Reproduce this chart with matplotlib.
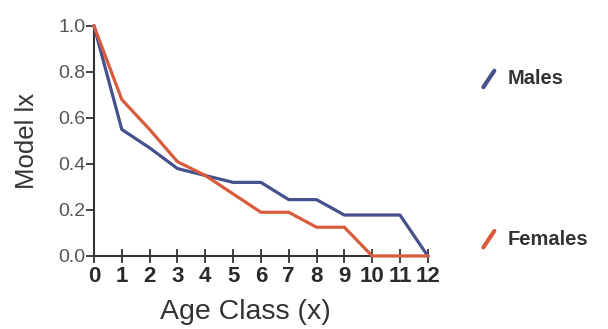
import matplotlib
matplotlib.use("Agg")
import matplotlib.pyplot as plt
from matplotlib.lines import Line2D

plt.rcParams["font.family"] = ["Liberation Sans", "DejaVu Sans"]

# data
age_class = [0, 1, 2, 3, 4, 5, 6, 7, 8, 9, 10, 11, 12]
males = [1.0, 0.55, 0.47, 0.38, 0.35, 0.32, 0.32, 0.245, 0.245, 0.178, 0.178, 0.178, 0.0]
females = [1.0, 0.68, 0.55, 0.41, 0.35, 0.27, 0.19, 0.19, 0.125, 0.125, 0.0, 0.0, 0.0]
y_ticks = [0.0, 0.2, 0.4, 0.6, 0.8, 1.0]

male_color = "#45508c"
female_color = "#d85c3c"

fig = plt.figure(figsize=(6.08, 3.29), dpi=100)
ax = fig.add_axes([0.1546, 0.222, 0.549, 0.699])

ax.plot(age_class, males, color=male_color, lw=2.3, clip_on=False, zorder=3)
ax.plot(age_class, females, color=female_color, lw=2.3, clip_on=False, zorder=4)

ax.set_xlim(0, 12)
ax.set_ylim(0, 1)
ax.set_xticks(age_class)
ax.set_xticklabels([str(a) for a in age_class],
                   family=["Liberation Sans Narrow", "Liberation Sans"],
                   fontweight="bold", fontsize=16, color="#2a2a2a")
ax.set_yticks(y_ticks)
ax.set_yticklabels([f"{v:.1f}" for v in y_ticks])

for side in ["top", "right"]:
    ax.spines[side].set_visible(False)
for side in ["left", "bottom"]:
    ax.spines[side].set_linewidth(1.5)
    ax.spines[side].set_color("#333333")

ax.tick_params(axis="x", direction="inout", length=10, width=1.3, color="#333333", pad=2)
ax.tick_params(axis="y", direction="out", length=6, width=1.3, color="#333333",
               labelsize=14, labelcolor="#555555", pad=0)

ax.set_xlabel("Age Class (x)", fontsize=20.5, color="#333333")
ax.xaxis.set_label_coords(0.455, -0.185)
ax.set_ylabel("Model lx", fontsize=18.5, color="#333333", labelpad=14)

# legend drawn by hand: short slanted strokes next to the labels
for y_mark, label, color in [(0.76, "Males", male_color), (0.273, "Females", female_color)]:
    fig.add_artist(Line2D([0.795, 0.813], [y_mark - 0.025, y_mark + 0.025],
                          transform=fig.transFigure, color=color, lw=3,
                          solid_capstyle="round"))
    fig.text(0.835, y_mark, label, fontsize=14.5, fontweight="bold",
             color="#333333", va="center", ha="left")

plt.savefig("out.png", dpi=100)
plt.close()
